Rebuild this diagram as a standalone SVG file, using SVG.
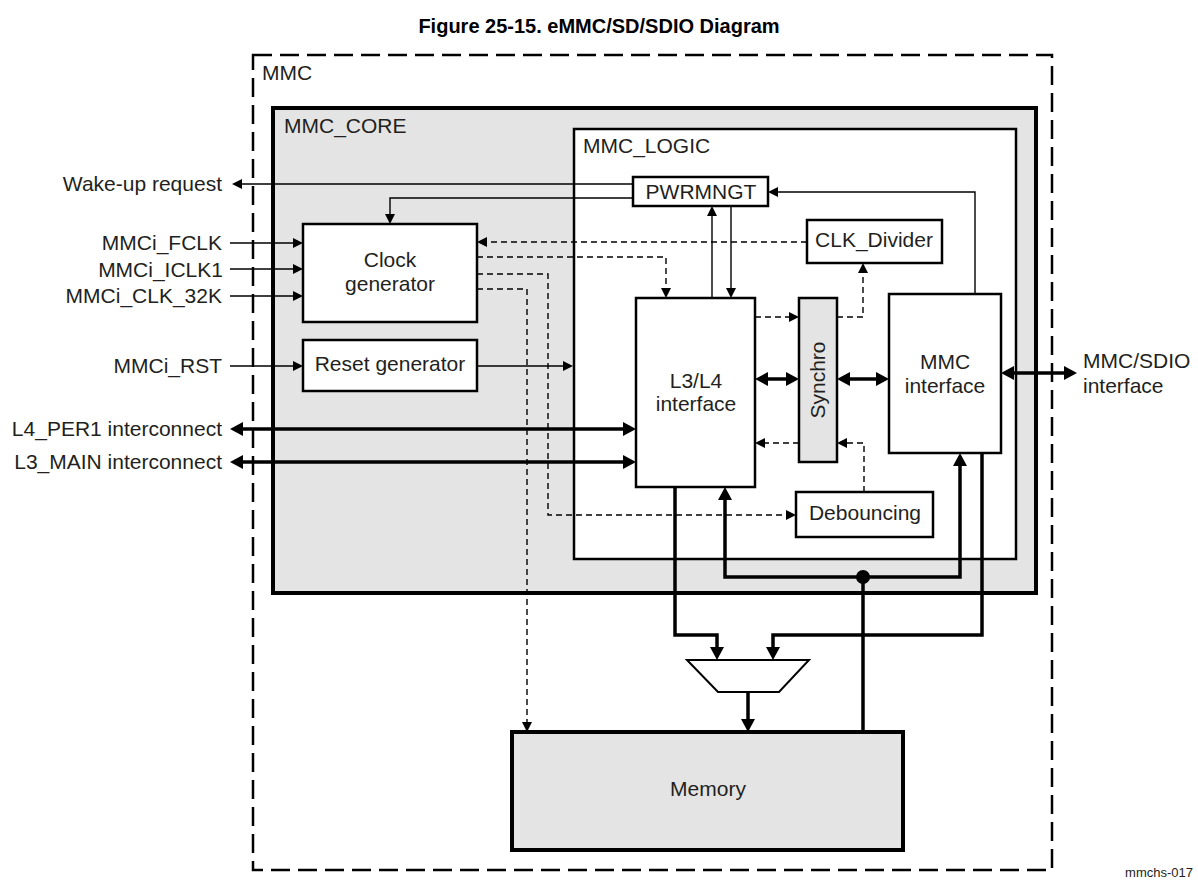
<svg xmlns="http://www.w3.org/2000/svg" width="1198" height="886" viewBox="0 0 1198 886">
<style>
text{font-family:"Liberation Sans",Arial,sans-serif;font-size:21px;fill:#231f20}
.c{text-anchor:middle}
.e{text-anchor:end}
.box{fill:#fff;stroke:#000;stroke-width:2.5}
.gbox{fill:#e4e4e4;stroke:#000;stroke-width:2.5}
.thin{fill:none;stroke:#000;stroke-width:1.4}
.dash{fill:none;stroke:#000;stroke-width:1.4;stroke-dasharray:6 4}
.thick{fill:none;stroke:#000;stroke-width:3.5}
</style>
<defs>
<marker id="a" markerUnits="userSpaceOnUse" markerWidth="10" markerHeight="10" refX="0" refY="5" orient="auto-start-reverse"><path d="M0,0L10,5L0,10z" fill="#000"/></marker>
<marker id="A" markerUnits="userSpaceOnUse" markerWidth="13" markerHeight="14" refX="0" refY="7" orient="auto-start-reverse"><path d="M0,0L13,7L0,14z" fill="#000"/></marker>
</defs>
<rect width="1198" height="886" fill="#fff"/>
<text x="599" y="33" class="c" style="font-weight:bold;font-size:20px;fill:#000">Figure 25-15. eMMC/SD/SDIO Diagram</text>

<g id="mmc">
<rect x="253" y="55" width="799" height="815" fill="none" stroke="#000" stroke-width="2.5" stroke-dasharray="19 8"/>
<text x="262" y="80">MMC</text>
</g>
<g id="mmc_core">
<rect x="273" y="108" width="763" height="485" fill="#e4e4e4" stroke="#000" stroke-width="4"/>
<text x="284" y="133">MMC_CORE</text>
</g>
<g id="mmc_logic">
<rect x="574" y="129" width="442" height="430" class="box"/>
<text x="583" y="153">MMC_LOGIC</text>
</g>
<g id="pwrmngt">
<rect x="633" y="177" width="135" height="29" class="box"/>
<text x="701" y="199" class="c">PWRMNGT</text>
</g>
<g id="clock_gen">
<rect x="303" y="224" width="174" height="98" class="box"/>
<text x="390" y="267" class="c">Clock</text>
<text x="390" y="291" class="c">generator</text>
</g>
<g id="reset_gen">
<rect x="303" y="340" width="174" height="51" class="box"/>
<text x="390" y="371" class="c">Reset generator</text>
</g>
<g id="l3l4">
<rect x="636" y="298" width="119" height="189" class="box"/>
<text x="696" y="388" class="c">L3/L4</text>
<text x="696" y="411" class="c">interface</text>
</g>
<g id="synchro">
<rect x="799" y="298" width="38" height="164" class="gbox"/>
<text transform="translate(825,380) rotate(-90)" class="c">Synchro</text>
</g>
<g id="clk_divider">
<rect x="807" y="220" width="135" height="43" class="box"/>
<text x="874" y="247" class="c">CLK_Divider</text>
</g>
<g id="mmc_if">
<rect x="889" y="294" width="112" height="159" class="box"/>
<text x="945" y="369" class="c">MMC</text>
<text x="945" y="393" class="c">interface</text>
</g>
<g id="debouncing">
<rect x="796" y="492" width="137" height="45" class="box"/>
<text x="865" y="520" class="c">Debouncing</text>
</g>
<g id="mux">
<polygon points="687,660 809,660 779,692 718,692" fill="#fff" stroke="#000" stroke-width="2"/>
</g>
<g id="memory">
<rect x="512" y="732" width="391" height="118" fill="#e4e4e4" stroke="#000" stroke-width="4"/>
<text x="708" y="796" class="c">Memory</text>
</g>
<g id="labels">
<text x="222" y="191" class="e">Wake-up request</text>
<text x="222" y="250" class="e">MMCi_FCLK</text>
<text x="223" y="277" class="e">MMCi_ICLK1</text>
<text x="222" y="303" class="e">MMCi_CLK_32K</text>
<text x="222" y="373" class="e">MMCi_RST</text>
<text x="222" y="436" class="e">L4_PER1 interconnect</text>
<text x="222" y="469" class="e">L3_MAIN interconnect</text>
<text x="1083" y="368">MMC/SDIO</text>
<text x="1083" y="393">interface</text>
<text x="1193" y="877" class="e" style="font-size:13px">mmchs-017</text>
</g>

<g id="connectors">
<path class="thin" d="M633,184H242" marker-end="url(#a)"/>
<path class="thin" d="M633,198H390V214" marker-end="url(#a)"/>
<path class="thin" d="M230,243H293" marker-end="url(#a)"/>
<path class="thin" d="M230,269H293" marker-end="url(#a)"/>
<path class="thin" d="M230,296H293" marker-end="url(#a)"/>
<path class="thin" d="M230,366H293" marker-end="url(#a)"/>
<path class="thin" d="M477,366H563" marker-end="url(#a)"/>
<path class="thin" d="M712,298V216" marker-end="url(#a)"/>
<path class="thin" d="M731,206V288" marker-end="url(#a)"/>
<path class="thin" d="M975,294V192H778" marker-end="url(#a)"/>

<path class="dash" d="M807,242H487" marker-end="url(#a)"/>
<path class="dash" d="M477,257H666V288" marker-end="url(#a)"/>
<path class="dash" d="M477,274H548V515H786" marker-end="url(#a)"/>
<path class="dash" d="M477,289H527V722" marker-end="url(#a)"/>
<path class="dash" d="M755,317H789" marker-end="url(#a)"/>
<path class="dash" d="M837,317H863V273" marker-end="url(#a)"/>
<path class="dash" d="M799,443H765" marker-end="url(#a)"/>
<path class="dash" d="M864,492V443H847" marker-end="url(#a)"/>

<path class="thick" d="M243,429H623" marker-start="url(#A)" marker-end="url(#A)"/>
<path class="thick" d="M243,462H623" marker-start="url(#A)" marker-end="url(#A)"/>
<path class="thick" d="M768,379H786" marker-start="url(#A)" marker-end="url(#A)"/>
<path class="thick" d="M850,379H876" marker-start="url(#A)" marker-end="url(#A)"/>
<path class="thick" d="M1014,373H1064" marker-start="url(#A)" marker-end="url(#A)"/>
<path class="thick" d="M675,487V635H717V647" marker-end="url(#A)"/>
<path class="thick" d="M982,453V635H773V647" marker-end="url(#A)"/>
<path class="thick" d="M960,466V577H725V500" marker-start="url(#A)" marker-end="url(#A)"/>
<path class="thick" d="M863,577V732"/>
<circle cx="863" cy="577" r="7" fill="#000"/>
<path class="thick" d="M748,692V719" marker-end="url(#A)"/>
</g>
</svg>
